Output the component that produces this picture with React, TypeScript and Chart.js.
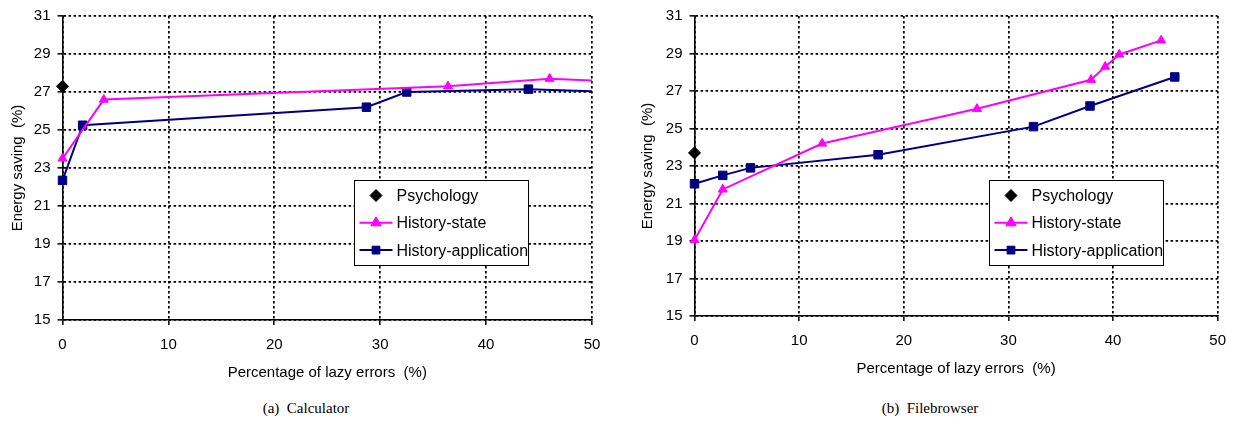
import React, { useEffect, useRef } from 'react';
import { Chart, registerables } from 'chart.js';

Chart.register(...registerables);

// ---- data -------------------------------------------------------------
const SERIES_LABELS = ['Psychology', 'History-state', 'History-application'];
const SERIES_COLORS = ['#000000', '#FF00FF', '#000080'];
const SERIES_MARKERS = ['rectRot', 'triangle', 'rect'];

const X_MIN = 0;
const X_MAX = 50;
const X_STEP = 10;
const Y_MIN = 15;
const Y_MAX = 31;
const Y_STEP = 2;

const X_TITLE = 'Percentage of lazy errors  (%)';
const Y_TITLE = 'Energy saving  (%)';

// (a) Calculator  (the last point of each history series lies past 50 %, so the line runs to the frame edge)
const calcPsychologyX = [0];
const calcPsychologyY = [27.3];
const calcStateX = [0, 3.9, 36.4, 46.0, 55];
const calcStateY = [23.5, 26.6, 27.3, 27.7, 27.5];
const calcAppX = [0, 1.9, 28.7, 32.5, 44.0, 55];
const calcAppY = [22.35, 25.25, 26.2, 27.0, 27.15, 26.95];

// (b) Filebrowser
const fbPsychologyX = [0];
const fbPsychologyY = [23.7];
const fbStateX = [0, 2.7, 12.2, 27.0, 37.9, 39.25, 40.6, 44.6];
const fbStateY = [19.05, 21.75, 24.2, 26.05, 27.6, 28.3, 28.95, 29.7];
const fbAppX = [0, 2.7, 5.35, 17.55, 32.4, 37.8, 45.9];
const fbAppY = [22.05, 22.5, 22.9, 23.6, 25.1, 26.2, 27.75];

const CAPTIONS = ['(a)  Calculator', '(b)  Filebrowser'];

// ---- helpers ------------------------------------------------------------
const SANS = '"Liberation Sans", Arial, sans-serif';
const SERIF = '"Liberation Serif", "Times New Roman", serif';

const zip = (xs: number[], ys: number[]) => xs.map((x, i) => ({ x, y: ys[i] }));

function drawMarker(ctx: CanvasRenderingContext2D, style: string, x: number, y: number, r: number, color: string) {
  ctx.fillStyle = color;
  ctx.strokeStyle = color;
  ctx.lineWidth = 1;
  ctx.beginPath();
  if (style === 'rectRot') {
    ctx.moveTo(x, y - r);
    ctx.lineTo(x + r, y);
    ctx.lineTo(x, y + r);
    ctx.lineTo(x - r, y);
  } else if (style === 'triangle') {
    ctx.moveTo(x, y - r);
    ctx.lineTo(x + r * 0.866, y + r / 2);
    ctx.lineTo(x - r * 0.866, y + r / 2);
  } else {
    const s = r / Math.SQRT2;
    ctx.rect(x - s, y - s, 2 * s, 2 * s);
  }
  ctx.closePath();
  ctx.fill();
  ctx.stroke();
}

// Boxed legend drawn inside the plot area
const boxLegend = {
  id: 'boxLegend',
  afterDraw(chart: any, _args: any, opts: any) {
    const { ctx, chartArea } = chart;
    const bx = Math.round(chartArea.left + opts.dx) + 0.5;
    const by = Math.round(chartArea.top + opts.dy) + 0.5;
    ctx.save();
    ctx.fillStyle = '#ffffff';
    ctx.fillRect(bx, by, opts.width, opts.height);
    ctx.strokeStyle = '#000000';
    ctx.lineWidth = 1;
    ctx.strokeRect(bx, by, opts.width, opts.height);
    ctx.font = `16px ${SANS}`;
    ctx.textBaseline = 'middle';
    ctx.textAlign = 'left';
    chart.data.datasets.forEach((ds: any, i: number) => {
      const cy = by + opts.rowTop + i * opts.rowGap;
      if (ds.showLine) {
        ctx.strokeStyle = ds.borderColor;
        ctx.lineWidth = 2;
        ctx.beginPath();
        ctx.moveTo(bx + 5, cy);
        ctx.lineTo(bx + 38, cy);
        ctx.stroke();
      }
      drawMarker(ctx, ds.pointStyle, bx + 21.5, cy, ds.legendMarker, ds.backgroundColor);
      ctx.fillStyle = '#000000';
      ctx.fillText(ds.label, bx + 42, cy + 1);
    });
    ctx.restore();
  },
};

type PanelSpec = {
  left: number;
  width: number;
  height: number;
  yAxisWidth: number;
  padRight: number;
  legendDx: number;
  legendDy: number;
  psy: [number[], number[]];
  state: [number[], number[]];
  app: [number[], number[]];
};

function buildDatasets(spec: PanelSpec) {
  const series = [spec.psy, spec.state, spec.app];
  const radii = [6, 5.2, 6];
  const legendR = [6, 6, 5.5];
  return series.map(([xs, ys], i) => ({
    label: SERIES_LABELS[i],
    data: zip(xs, ys),
    showLine: i !== 0,
    borderColor: SERIES_COLORS[i],
    backgroundColor: SERIES_COLORS[i],
    borderWidth: 2,
    pointStyle: SERIES_MARKERS[i],
    pointRadius: radii[i],
    pointBorderWidth: 1,
    pointBorderColor: SERIES_COLORS[i],
    pointBackgroundColor: SERIES_COLORS[i],
    legendMarker: legendR[i],
    tension: 0,
    clip: { left: false, top: false, right: 0, bottom: false },
  }));
}

function Panel({ spec }: { spec: PanelSpec }) {
  const ref = useRef<HTMLCanvasElement>(null);
  useEffect(() => {
    const gridCommon = {
      color: '#000000',
      lineWidth: 1.7,
      drawTicks: true,
      tickLength: 5,
      tickWidth: 1.5,
      tickColor: '#000000',
    };
    const borderCommon = { display: true, color: '#000000', width: 1.6, dash: [2.5, 2.5] };
    const chart = new Chart(ref.current as HTMLCanvasElement, {
      type: 'scatter',
      data: { datasets: buildDatasets(spec) as any },
      plugins: [boxLegend as any],
      options: {
        responsive: false,
        animation: false,
        devicePixelRatio: 1,
        layout: { padding: { top: 15, right: spec.padRight, left: 0, bottom: 0 } },
        plugins: {
          legend: { display: false },
          tooltip: { enabled: false },
          boxLegend: {
            dx: spec.legendDx,
            dy: spec.legendDy,
            width: 174,
            height: 85,
            rowTop: 15,
            rowGap: 27.3,
          },
        } as any,
        scales: {
          x: {
            type: 'linear',
            min: X_MIN,
            max: X_MAX,
            grid: gridCommon,
            border: borderCommon,
            ticks: {
              stepSize: X_STEP,
              color: '#000000',
              padding: 11,
              maxRotation: 0,
              font: { family: SANS, size: 15 },
            },
            title: {
              display: true,
              text: X_TITLE,
              color: '#000000',
              padding: { top: 0, bottom: 0 },
              font: { family: SANS, size: 15 },
            },
            afterFit: (scale: any) => {
              scale.height = 62;
            },
          },
          y: {
            type: 'linear',
            min: Y_MIN,
            max: Y_MAX,
            grid: gridCommon,
            border: borderCommon,
            ticks: {
              stepSize: Y_STEP,
              color: '#000000',
              padding: 7,
              font: { family: SANS, size: 15 },
            },
            title: {
              display: true,
              text: Y_TITLE,
              color: '#000000',
              padding: { top: 9, bottom: 0 },
              font: { family: SANS, size: 15 },
            },
            afterFit: (scale: any) => {
              scale.width = spec.yAxisWidth;
            },
          },
        },
      } as any,
    });
    return () => chart.destroy();
  }, [spec]);
  return (
    <canvas
      ref={ref}
      width={spec.width}
      height={spec.height}
      style={{ position: 'absolute', left: spec.left, top: 0, width: spec.width, height: spec.height }}
    />
  );
}

const PANELS: PanelSpec[] = [
  {
    left: 0,
    width: 612,
    height: 382,
    yAxisWidth: 62.5,
    padRight: 20,
    legendDx: 291.8,
    legendDy: 164.3,
    psy: [calcPsychologyX, calcPsychologyY],
    state: [calcStateX, calcStateY],
    app: [calcAppX, calcAppY],
  },
  {
    left: 630,
    width: 607,
    height: 378,
    yAxisWidth: 64.5,
    padRight: 13.5,
    legendDx: 294.8,
    legendDy: 163.7,
    psy: [fbPsychologyX, fbPsychologyY],
    state: [fbStateX, fbStateY],
    app: [fbAppX, fbAppY],
  },
];

const CAPTION_CENTERS = [306, 930];

export default function App() {
  return (
    <div
      style={{
        position: 'absolute',
        left: 0,
        top: 0,
        width: 1237,
        height: 441,
        background: '#ffffff',
        overflow: 'hidden',
      }}
    >
      {PANELS.map((p, i) => (
        <Panel key={i} spec={p} />
      ))}
      {CAPTIONS.map((c, i) => (
        <div
          key={c}
          style={{
            position: 'absolute',
            left: CAPTION_CENTERS[i] - 150,
            width: 300,
            top: 398,
            textAlign: 'center',
            fontFamily: SERIF,
            fontSize: 15,
            lineHeight: '20px',
            whiteSpace: 'pre',
            color: '#000000',
          }}
        >
          {c}
        </div>
      ))}
    </div>
  );
}
